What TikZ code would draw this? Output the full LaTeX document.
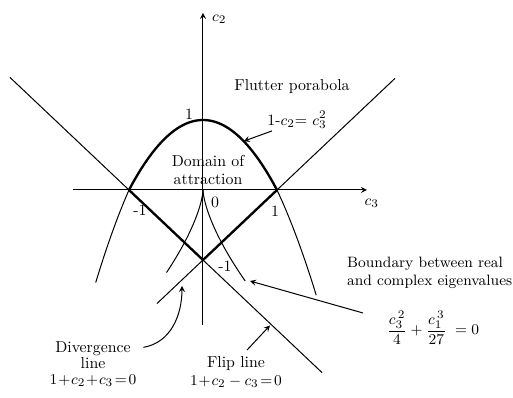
\documentclass[tikz,border=0pt]{standalone}
\usepackage{amsmath}
\usepackage{tikz}

\begin{document}
\begin{tikzpicture}[x=44.4pt,y=42pt,>=stealth,line width=0.6pt,
    font=\fontsize{9.5}{11}\selectfont,
    bnd/.style={line width=1.4pt},
    lbl/.style={inner sep=1pt}]
  \useasboundingbox (-2.743,-2.971) rectangle (4.189,2.714);
  % axes
  \draw[->] (-1.757,0) -- (2.216,0) coordinate (c3end);
  \draw[->] (0,-1.929) -- (0,2.53) coordinate (c2end);
  \node[lbl] (c2lab) at (0.22,2.44) {$c_2$};
  \node[lbl] (c3lab) at (2.28,-0.19) {$c_3$};
  % flip and divergence lines
  \draw (-2.608,1.608) -- (1.608,-2.608);
  \draw (-0.622,-1.622) -- (2.595,1.595);
  % flutter parabola
  \draw[domain=-1.45:-1,samples=20] plot (\x,{1-\x*\x-0.2*(\x*\x-1)});
  \draw[domain=1:1.53,samples=20] plot (\x,{1-\x*\x-0.12*(\x*\x-1)});
  \draw[bnd,domain=-1:1,samples=50] plot (\x,{1-\x*\x});
  \draw[bnd] (-1,0) -- (0,-1) -- (1,0);
  % real/complex boundary (cusp)
  \draw[domain=-0.79:0,samples=40,variable=\t] plot ({\t*\t*\t},{-1.8899*\t*\t});
  \draw[domain=0:0.83,samples=40,variable=\t] plot ({\t*\t*\t},{-1.8899*\t*\t});
  % tick values
  \node[lbl] (ytop) at (-0.189,1.086) {1};
  \node[lbl] (xleft) at (-0.851,-0.286) {-1};
  \node[lbl] (zero) at (0.162,-0.171) {0};
  \node[lbl] (xright) at (0.973,-0.3) {1};
  \node[lbl] (ybot) at (0.297,-1.086) {-1};
  \node[align=center,inner sep=1pt] (domain) at (0.068,0.286) {Domain of\\attraction};
  % flutter label
  \node[lbl] (flutter) at (1.203,1.471) {Flutter porabola};
  \node[lbl] (flutq) at (1.27,1.0) {1-$c_2$= $c_3^2$};
  \coordinate (flutp) at (0.55,0.6975);
  \draw[->] ([xshift=4pt]flutq.south west) -- (flutp);
  % boundary label
  \node[anchor=west,align=left,inner sep=1pt,font=\fontsize{9}{11}\selectfont] (bound)
    at (1.919,-1.186) {Boundary between real\\and complex eigenvalues};
  \node[lbl] (bformula) at (3.108,-1.971)
    {$\dfrac{c_3^{\,2}}{4}+\dfrac{c_1^{\,3}}{27}\;=0$};
  \coordinate (btail) at (2.162,-1.757);
  \coordinate (cuspend) at (0.635,-1.3);
  \draw[->] (btail) -- (cuspend);
  % divergence label
  \node[align=center,inner sep=1pt] (diverg) at (-1.486,-2.486)
    {Divergence\\[-1pt]line\\[-1.5pt]$1\!+\!c_2\!+\!c_3\!=\!0$};
  \coordinate (divtip) at (-0.284,-1.37);
  \draw[->] ([xshift=3pt,yshift=-5pt]diverg.north east) to[out=10,in=-90] (divtip);
  % flip label
  \node[align=center,inner sep=1pt] (flip) at (0.446,-2.6)
    {Flip line\\$1\!+\!c_2 - c_3\!=\!0$};
  \coordinate (fliptail) at (0.595,-2.286);
  \coordinate (fliptip) at (0.905,-1.935);
  \draw[->] (fliptail) -- (fliptip);
\end{tikzpicture}
\end{document}
